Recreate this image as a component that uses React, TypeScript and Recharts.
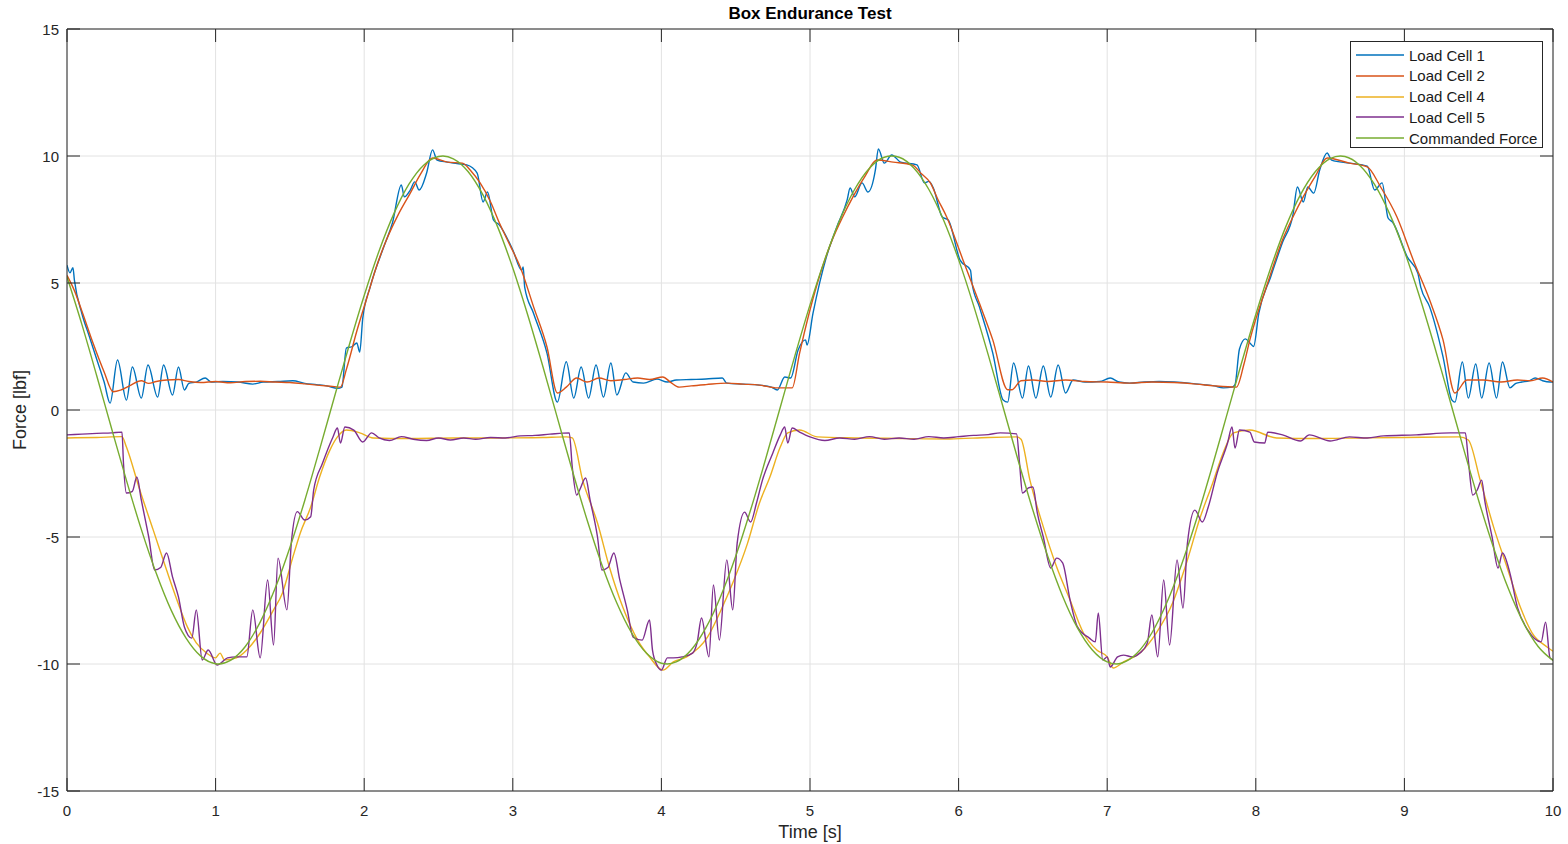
import React from 'react';
import { LineChart, Line, XAxis, YAxis, CartesianGrid } from 'recharts';

const FONT = 'Arial, "Liberation Sans", Helvetica, sans-serif';
const AXIS = '#262626';
const GRID = '#e2e2e2';

const xTicks = [0, 1, 2, 3, 4, 5, 6, 7, 8, 9, 10];
const yTicks = [-15, -10, -5, 0, 5, 10, 15];

const seriesNames = ['Load Cell 1', 'Load Cell 2', 'Load Cell 4', 'Load Cell 5', 'Commanded Force'];
const seriesColors = ['#0072BD', '#D95319', '#EDB120', '#7E2F8E', '#77AC30'];

const loadCell1: [number, number][] = [
  [0, 5.7], [0.02, 5.4], [0.04, 5.6], [0.05, 5.1], [0.1, 3.8], [0.15, 2.9], [0.2, 2.0], [0.25, 1.1], [0.29, 0.27],
  [0.34, 1.97], [0.4, 0.39], [0.44, 1.69], [0.5, 0.47], [0.545, 1.77], [0.61, 0.51], [0.65, 1.77], [0.71, 0.59],
  [0.75, 1.69], [0.79, 0.79], [0.82, 1.05], [0.87, 1.1], [0.93, 1.26], [0.97, 1.1], [1.05, 1.12], [1.15, 1.1],
  [1.25, 1.02], [1.32, 1.1], [1.42, 1.12], [1.52, 1.15], [1.6, 1.05], [1.68, 1.0], [1.75, 0.95], [1.82, 0.85],
  [1.85, 0.9], [1.88, 2.44], [1.92, 2.5], [1.95, 2.64], [1.97, 2.28], [1.99, 3.6], [2.04, 4.84], [2.13, 6.4],
  [2.19, 7.36], [2.25, 8.86], [2.27, 8.39], [2.31, 8.66], [2.34, 8.98], [2.37, 8.66], [2.42, 9.33], [2.46, 10.24],
  [2.49, 9.84], [2.56, 9.76], [2.6, 9.72], [2.69, 9.65], [2.76, 9.33], [2.8, 8.19], [2.83, 8.58], [2.87, 7.48],
  [2.91, 7.28], [3.0, 6.3], [3.06, 5.5], [3.07, 5.63], [3.08, 4.84], [3.14, 3.8], [3.23, 2.24], [3.3, 0.31],
  [3.36, 1.9], [3.41, 0.47], [3.46, 1.69], [3.51, 0.47], [3.56, 1.77], [3.61, 0.51], [3.66, 1.85], [3.7, 0.59],
  [3.76, 1.46], [3.81, 1.1], [3.88, 1.06], [3.97, 1.22], [4.04, 1.1], [4.1, 1.18], [4.2, 1.2], [4.3, 1.22],
  [4.41, 1.26], [4.44, 1.06], [4.55, 1.02], [4.66, 0.98], [4.74, 0.9], [4.78, 0.79], [4.83, 1.3], [4.87, 1.26],
  [4.92, 2.36], [4.97, 2.76], [4.98, 2.56], [5.02, 3.8], [5.11, 6.02], [5.18, 7.2], [5.25, 8.27], [5.27, 8.74],
  [5.3, 8.39], [5.35, 8.94], [5.39, 8.58], [5.44, 9.45], [5.46, 10.28], [5.5, 9.72], [5.55, 10.04], [5.61, 9.76],
  [5.72, 9.65], [5.77, 8.94], [5.8, 9.0], [5.83, 8.74], [5.89, 7.6], [5.93, 7.48], [6.01, 5.9], [6.08, 5.5],
  [6.09, 5.0], [6.14, 4.06], [6.23, 2.24], [6.3, 0.39], [6.33, 0.31], [6.37, 1.85], [6.43, 0.47], [6.47, 1.73],
  [6.52, 0.47], [6.57, 1.73], [6.62, 0.51], [6.67, 1.77], [6.72, 0.67], [6.77, 1.18], [6.85, 1.1], [6.95, 1.12],
  [7.02, 1.26], [7.08, 1.1], [7.15, 1.06], [7.25, 1.1], [7.35, 1.12], [7.45, 1.1], [7.55, 1.06], [7.65, 1.0],
  [7.72, 0.95], [7.78, 0.87], [7.84, 0.9], [7.86, 1.0], [7.89, 2.4], [7.93, 2.8], [7.96, 2.64], [7.985, 2.5],
  [8.02, 3.8], [8.1, 5.24], [8.18, 6.6], [8.25, 7.68], [8.28, 8.78], [8.32, 8.19], [8.35, 8.78], [8.39, 8.54],
  [8.43, 9.45], [8.48, 10.12], [8.51, 9.84], [8.63, 9.72], [8.75, 9.6], [8.8, 8.66], [8.85, 8.94], [8.89, 7.56],
  [8.92, 7.4], [9.02, 6.02], [9.09, 5.39], [9.11, 4.84], [9.17, 4.06], [9.26, 2.09], [9.32, 0.39], [9.34, 0.31],
  [9.39, 1.89], [9.43, 0.47], [9.48, 1.81], [9.52, 0.47], [9.57, 1.85], [9.62, 0.47], [9.66, 1.89], [9.71, 0.87],
  [9.75, 1.05], [9.79, 1.1], [9.84, 1.15], [9.88, 1.26], [9.93, 1.15], [9.98, 1.1], [10, 1.1],
];

const loadCell2: [number, number][] = [
  [0, 5.3], [0.05, 4.7], [0.1, 3.9], [0.175, 2.64], [0.25, 1.5], [0.31, 0.72], [0.36, 0.78], [0.42, 0.95],
  [0.5, 1.15], [0.55, 1.05], [0.6, 1.12], [0.67, 1.18], [0.75, 1.2], [0.82, 1.12], [0.9, 1.08], [1.0, 1.12],
  [1.1, 1.07], [1.2, 1.12], [1.3, 1.13], [1.4, 1.1], [1.5, 1.08], [1.6, 1.03], [1.7, 0.97], [1.8, 0.92],
  [1.84, 0.9], [1.88, 1.6], [1.95, 3.1], [2.02, 4.45], [2.08, 5.6], [2.15, 6.7], [2.23, 7.7], [2.31, 8.54],
  [2.38, 9.3], [2.46, 9.92], [2.56, 9.76], [2.66, 9.72], [2.72, 9.4], [2.78, 8.94], [2.85, 8.2], [2.91, 7.36],
  [2.98, 6.5], [3.05, 5.63], [3.14, 4.06], [3.23, 2.48], [3.3, 0.67], [3.36, 0.9], [3.43, 1.26], [3.5, 1.1],
  [3.58, 1.26], [3.66, 1.15], [3.75, 1.2], [3.84, 1.26], [3.92, 1.2], [4.01, 1.3], [4.06, 1.1], [4.12, 0.9],
  [4.2, 0.95], [4.3, 1.0], [4.44, 1.06], [4.55, 1.02], [4.66, 0.98], [4.78, 0.87], [4.88, 0.87], [4.93, 2.24],
  [5.05, 5.0], [5.15, 6.7], [5.22, 7.6], [5.29, 8.4], [5.37, 9.2], [5.45, 9.84], [5.56, 9.76], [5.69, 9.64],
  [5.75, 9.3], [5.81, 8.94], [5.86, 8.3], [5.92, 7.6], [6.03, 5.9], [6.14, 4.2], [6.23, 2.76], [6.33, 0.8],
  [6.36, 0.8], [6.42, 1.15], [6.5, 1.18], [6.6, 1.12], [6.72, 1.18], [6.85, 1.12], [7.0, 1.1], [7.15, 1.06],
  [7.3, 1.1], [7.45, 1.08], [7.6, 1.02], [7.72, 0.95], [7.87, 0.9], [7.92, 1.8], [7.96, 2.76], [8.08, 5.0],
  [8.18, 6.7], [8.25, 7.6], [8.32, 8.4], [8.4, 9.2], [8.48, 9.92], [8.63, 9.72], [8.75, 9.57], [8.84, 8.78],
  [8.95, 7.6], [9.06, 5.9], [9.17, 4.33], [9.26, 2.76], [9.34, 0.67], [9.42, 1.18], [9.53, 1.18], [9.65, 1.1],
  [9.76, 1.18], [9.85, 1.15], [9.93, 1.26], [10, 1.1],
];

const loadCell4: [number, number][] = [
  [0, -1.1], [0.2, -1.08], [0.37, -1.05], [0.4, -1.46], [0.49, -3.15], [0.58, -4.72], [0.67, -6.3], [0.74, -7.48],
  [0.81, -8.54], [0.87, -9.17], [0.94, -9.57], [1.0, -9.76], [1.03, -9.57], [1.06, -9.84], [1.14, -9.76],
  [1.21, -9.45], [1.3, -8.78], [1.39, -7.87], [1.45, -7.2], [1.52, -5.79], [1.57, -4.84], [1.64, -3.82],
  [1.7, -2.64], [1.77, -1.57], [1.82, -1.06], [1.88, -0.79], [1.97, -0.9], [2.06, -1.1], [2.3, -1.12],
  [2.6, -1.1], [2.9, -1.1], [3.2, -1.08], [3.36, -1.06], [3.4, -1.1], [3.47, -2.76], [3.57, -4.45], [3.65, -6.18],
  [3.74, -7.76], [3.84, -9.06], [3.92, -9.72], [4.01, -10.24], [4.08, -9.92], [4.17, -9.72], [4.31, -8.94],
  [4.41, -7.76], [4.48, -6.81], [4.58, -5.24], [4.66, -3.66], [4.73, -2.64], [4.8, -1.46], [4.85, -0.9],
  [4.93, -0.79], [5.05, -1.06], [5.3, -1.1], [5.6, -1.12], [5.94, -1.14], [6.2, -1.08], [6.39, -1.06],
  [6.42, -1.15], [6.48, -2.76], [6.57, -4.6], [6.66, -6.18], [6.75, -7.48], [6.84, -8.78], [6.93, -9.45],
  [7.0, -9.72], [7.04, -10.16], [7.11, -9.92], [7.22, -9.57], [7.33, -8.78], [7.44, -7.6], [7.54, -5.9],
  [7.62, -4.33], [7.71, -2.87], [7.78, -1.69], [7.85, -0.9], [7.96, -0.79], [8.14, -1.1], [8.4, -1.12],
  [8.7, -1.1], [9.0, -1.08], [9.37, -1.06], [9.43, -1.18], [9.51, -2.76], [9.6, -4.6], [9.69, -6.18],
  [9.78, -7.76], [9.86, -8.78], [9.96, -9.33], [10, -9.5],
];

const loadCell5: [number, number][] = [
  [0, -0.98], [0.1, -0.95], [0.2, -0.92], [0.3, -0.9], [0.37, -0.87], [0.38, -2.09], [0.4, -3.27], [0.44, -3.2],
  [0.47, -2.64], [0.5, -3.54], [0.55, -5.0], [0.59, -6.3], [0.63, -6.2], [0.67, -5.63], [0.71, -6.57],
  [0.75, -7.36], [0.79, -8.54], [0.84, -8.98], [0.87, -7.87], [0.91, -9.84], [0.95, -9.45], [1.01, -10.04],
  [1.08, -9.76], [1.14, -9.72], [1.21, -9.72], [1.25, -7.87], [1.3, -9.76], [1.35, -6.69], [1.39, -9.25],
  [1.42, -5.83], [1.48, -7.87], [1.51, -5.2], [1.55, -4.0], [1.6, -4.33], [1.64, -4.2], [1.66, -3.15],
  [1.72, -2.09], [1.79, -1.06], [1.82, -0.71], [1.84, -1.3], [1.87, -0.67], [1.93, -0.79], [1.99, -1.26],
  [2.05, -0.9], [2.1, -1.1], [2.17, -1.2], [2.25, -1.05], [2.33, -1.15], [2.42, -1.2], [2.5, -1.1], [2.58, -1.18],
  [2.67, -1.1], [2.75, -1.15], [2.85, -1.08], [2.95, -1.1], [3.05, -1.02], [3.15, -1.0], [3.25, -0.95],
  [3.38, -0.9], [3.4, -2.24], [3.43, -3.35], [3.45, -3.15], [3.49, -2.68], [3.52, -3.54], [3.57, -5.0],
  [3.6, -6.3], [3.64, -6.2], [3.68, -5.63], [3.72, -6.69], [3.77, -7.87], [3.81, -8.94], [3.87, -9.06],
  [3.92, -8.27], [3.94, -9.45], [3.97, -10.04], [4.0, -10.24], [4.04, -9.76], [4.08, -9.76], [4.14, -9.72],
  [4.21, -9.57], [4.24, -9.17], [4.27, -8.19], [4.32, -9.72], [4.35, -6.89], [4.39, -9.06], [4.44, -5.9],
  [4.48, -7.87], [4.51, -5.24], [4.56, -4.02], [4.6, -4.41], [4.64, -3.66], [4.68, -2.76], [4.75, -1.69],
  [4.8, -0.98], [4.83, -0.67], [4.85, -1.3], [4.88, -0.71], [4.93, -0.87], [5.0, -1.06], [5.1, -1.2], [5.2, -1.1],
  [5.3, -1.15], [5.4, -1.05], [5.5, -1.15], [5.6, -1.1], [5.7, -1.15], [5.8, -1.05], [5.9, -1.1], [6.0, -1.05],
  [6.1, -1.0], [6.2, -0.97], [6.28, -0.9], [6.39, -0.94], [6.41, -2.09], [6.43, -3.27], [6.47, -3.07],
  [6.5, -3.03], [6.53, -4.06], [6.57, -5.0], [6.62, -6.22], [6.66, -5.83], [6.7, -6.02], [6.75, -7.48],
  [6.8, -8.54], [6.88, -8.98], [6.92, -9.13], [6.94, -7.99], [6.97, -9.84], [7.0, -9.72], [7.02, -10.12],
  [7.07, -9.72], [7.11, -9.65], [7.17, -9.72], [7.22, -9.57], [7.27, -9.17], [7.3, -8.07], [7.34, -9.72],
  [7.38, -6.69], [7.42, -9.25], [7.47, -5.9], [7.51, -7.8], [7.54, -5.24], [7.59, -3.94], [7.64, -4.41],
  [7.68, -3.82], [7.74, -2.48], [7.81, -1.3], [7.84, -0.67], [7.86, -1.5], [7.89, -0.79], [7.96, -0.87],
  [7.99, -1.26], [8.06, -1.3], [8.08, -0.87], [8.18, -0.98], [8.3, -1.22], [8.36, -0.98], [8.5, -1.22],
  [8.63, -1.06], [8.75, -1.1], [8.86, -1.02], [9.08, -0.98], [9.31, -0.9], [9.41, -0.9], [9.43, -1.97],
  [9.46, -3.35], [9.49, -3.15], [9.52, -2.76], [9.54, -3.54], [9.59, -5.0], [9.63, -6.22], [9.66, -5.63],
  [9.71, -6.42], [9.76, -7.76], [9.83, -8.66], [9.92, -9.13], [9.95, -8.35], [9.98, -9.76], [10, -9.84],
];

const commandedForce: [number, number][] = [
  [0, 5.24], [0.1, 3.37], [0.2, 1.35], [0.3, -0.73], [0.4, -2.77], [0.5, -4.7], [0.6, -6.42], [0.7, -7.87],
  [0.8, -8.97], [0.9, -9.69], [1.0, -9.99], [1.02, -10], [1.1, -9.86], [1.2, -9.31], [1.3, -8.35], [1.4, -7.03],
  [1.5, -5.41], [1.6, -3.56], [1.7, -1.55], [1.8, 0.52], [1.9, 2.57], [2.0, 4.51], [2.1, 6.26], [2.2, 7.73],
  [2.3, 8.88], [2.4, 9.64], [2.5, 9.98], [2.53, 10], [2.6, 9.89], [2.7, 9.38], [2.8, 8.46], [2.9, 7.18],
  [3.0, 5.59], [3.1, 3.75], [3.2, 1.76], [3.3, -0.31], [3.4, -2.37], [3.5, -4.33], [3.6, -6.1], [3.7, -7.6],
  [3.8, -8.78], [3.9, -9.58], [4.0, -9.97], [4.04, -10], [4.1, -9.92], [4.2, -9.45], [4.3, -8.57], [4.4, -7.32],
  [4.5, -5.76], [4.6, -3.94], [4.7, -1.96], [4.8, 0.11], [4.9, 2.17], [5.0, 4.14], [5.1, 5.93], [5.2, 7.47],
  [5.3, 8.68], [5.4, 9.52], [5.5, 9.95], [5.55, 10], [5.6, 9.95], [5.7, 9.52], [5.8, 8.68], [5.9, 7.46],
  [6.0, 5.92], [6.1, 4.13], [6.2, 2.16], [6.3, 0.1], [6.4, -1.97], [6.5, -3.95], [6.6, -5.76], [6.7, -7.33],
  [6.8, -8.58], [6.9, -9.45], [7.0, -9.92], [7.06, -10], [7.1, -9.96], [7.2, -9.58], [7.3, -8.78], [7.4, -7.6],
  [7.5, -6.09], [7.6, -4.32], [7.7, -2.36], [7.8, -0.3], [7.9, 1.77], [8.0, 3.76], [8.1, 5.59], [8.2, 7.19],
  [8.3, 8.47], [8.4, 9.38], [8.5, 9.9], [8.57, 10], [8.6, 9.98], [8.7, 9.63], [8.8, 8.87], [8.9, 7.73],
  [9.0, 6.25], [9.1, 4.5], [9.2, 2.56], [9.3, 0.51], [9.4, -1.56], [9.5, -3.57], [9.6, -5.42], [9.7, -7.04],
  [9.8, -8.36], [9.9, -9.31], [10, -9.86],
];

const toRows = (arr: [number, number][]) => arr.map(([t, v]) => ({ t, v }));
const seriesData = [loadCell1, loadCell2, loadCell4, loadCell5, commandedForce].map(toRows);

const TICK_LEN = 13;

const LeftTick = (props: any) => {
  const { x, y, payload } = props;
  return (
    <g>
      <line x1={x + 8} x2={x + 8 + TICK_LEN} y1={y} y2={y} stroke={AXIS} strokeWidth={1} />
      <text x={x} y={y} dy={5.5} textAnchor="end" fill={AXIS} fontSize={15} fontFamily={FONT}>
        {payload.value}
      </text>
    </g>
  );
};

const BottomTick = (props: any) => {
  const { x, y, payload } = props;
  return (
    <g>
      <line x1={x} x2={x} y1={y} y2={y - TICK_LEN} stroke={AXIS} strokeWidth={1} />
      <text x={x} y={y + 25} textAnchor="middle" fill={AXIS} fontSize={15} fontFamily={FONT}>
        {payload.value}
      </text>
    </g>
  );
};

const RightTick = (props: any) => {
  const { x, y } = props;
  return <line x1={x - TICK_LEN} x2={x} y1={y} y2={y} stroke={AXIS} strokeWidth={1} />;
};

const TopTick = (props: any) => {
  const { x, y } = props;
  return <line x1={x} x2={x} y1={y} y2={y + TICK_LEN} stroke={AXIS} strokeWidth={1} />;
};

export default function App() {
  return (
    <div style={{ position: 'fixed', left: 0, top: 0, width: 1568, height: 844, background: '#fff', overflow: 'hidden' }}>
      <LineChart width={1568} height={844} margin={{ top: 0, right: 0, bottom: 0, left: 0 }}>
        <CartesianGrid stroke={GRID} strokeWidth={1} />
        <XAxis
          dataKey="t"
          type="number"
          domain={[0, 10]}
          ticks={xTicks}
          allowDataOverflow
          height={53}
          tickSize={0}
          tickMargin={0}
          tickLine={false}
          axisLine={{ stroke: AXIS }}
          tick={<BottomTick />}
          interval={0}
        />
        <XAxis
          xAxisId="top"
          orientation="top"
          dataKey="t"
          type="number"
          domain={[0, 10]}
          ticks={xTicks}
          allowDataOverflow
          height={29}
          tickSize={0}
          tickMargin={0}
          tickLine={false}
          axisLine={{ stroke: AXIS }}
          tick={<TopTick />}
          interval={0}
        />
        <YAxis
          type="number"
          domain={[-15, 15]}
          ticks={yTicks}
          allowDataOverflow
          width={67}
          tickSize={0}
          tickMargin={8}
          tickLine={false}
          axisLine={{ stroke: AXIS }}
          tick={<LeftTick />}
          interval={0}
        />
        <YAxis
          yAxisId="right"
          orientation="right"
          type="number"
          domain={[-15, 15]}
          ticks={yTicks}
          allowDataOverflow
          width={15}
          tickSize={0}
          tickMargin={0}
          tickLine={false}
          axisLine={{ stroke: AXIS }}
          tick={<RightTick />}
          interval={0}
        />
        {seriesData.map((d, i) => (
          <Line
            key={seriesNames[i]}
            data={d}
            dataKey="v"
            name={seriesNames[i]}
            type="monotone"
            stroke={seriesColors[i]}
            strokeWidth={1.4}
            dot={false}
            activeDot={false}
            isAnimationActive={false}
          />
        ))}
      </LineChart>

      <div style={{ position: 'absolute', left: 67, top: 3, width: 1486, textAlign: 'center', fontFamily: FONT, fontSize: 17, fontWeight: 'bold', color: '#000', lineHeight: '22px' }}>
        Box Endurance Test
      </div>
      <div style={{ position: 'absolute', left: 67, top: 821, width: 1486, textAlign: 'center', fontFamily: FONT, fontSize: 18, color: AXIS, lineHeight: '22px' }}>
        Time [s]
      </div>
      <div style={{ position: 'absolute', left: 20, top: 410, transform: 'translate(-50%, -50%) rotate(-90deg)', whiteSpace: 'nowrap', fontFamily: FONT, fontSize: 18, color: AXIS, lineHeight: '22px' }}>
        Force [lbf]
      </div>

      <div style={{ position: 'absolute', left: 1350, top: 41, width: 193, height: 107, border: `1px solid ${AXIS}`, background: '#fff', boxSizing: 'border-box' }}>
        {seriesNames.map((name, i) => (
          <div key={name} style={{ position: 'absolute', left: 0, top: 2 + i * 20.75, height: 22, display: 'flex', alignItems: 'center' }}>
            <svg width={58} height={22} style={{ display: 'block' }}>
              <line x1={5} x2={53} y1={11} y2={11} stroke={seriesColors[i]} strokeWidth={1.4} />
            </svg>
            <span style={{ fontFamily: FONT, fontSize: 15, color: '#1a1a1a', whiteSpace: 'nowrap' }}>{name}</span>
          </div>
        ))}
      </div>
    </div>
  );
}
